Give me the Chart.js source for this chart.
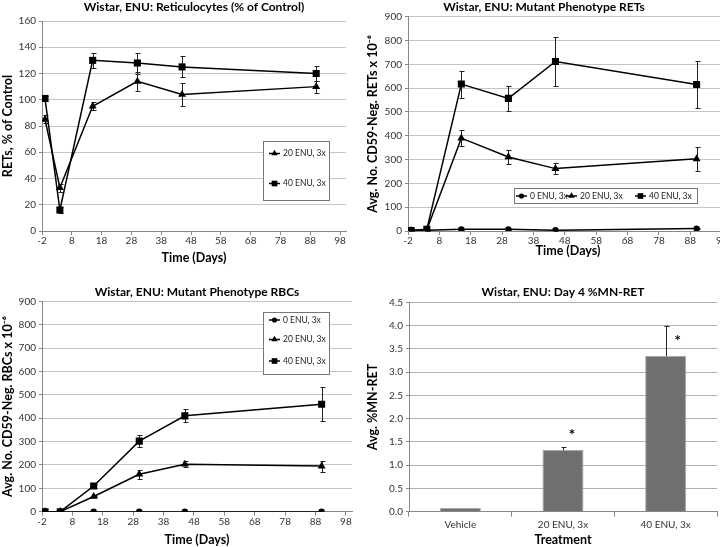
<!DOCTYPE html>
<html>
<head>
<meta charset="utf-8">
<title>Wistar, ENU</title>
<script src="https://cdn.jsdelivr.net/npm/chart.js@4.4.1/dist/chart.umd.min.js"></script>
<style>
  body { margin: 0; background: #fff; }
  #page { position: relative; width: 720px; height: 547px; overflow: hidden; }
  .panel { position: absolute; }
</style>
</head>
<body>
<div id="page">
  <div class="panel" style="left:0;top:0;width:360px;height:273px"><canvas id="retPctChart"></canvas></div>
  <div class="panel" style="left:360px;top:0;width:400px;height:273px"><canvas id="mutRetChart"></canvas></div>
  <div class="panel" style="left:0;top:273px;width:360px;height:274px"><canvas id="mutRbcChart"></canvas></div>
  <div class="panel" style="left:360px;top:273px;width:360px;height:274px"><canvas id="mnRetChart"></canvas></div>
</div>
<script>
// --- DATA ---
const days = [-1, 4, 15, 30, 45, 90];
const dayTicks = [-2, 8, 18, 28, 38, 48, 58, 68, 78, 88, 98];
const seriesLabels = ['0 ENU, 3x', '20 ENU, 3x', '40 ENU, 3x'];

// Reticulocytes (% of control)
const retPct20 = [85, 33, 95, 114, 104, 110];
const retPct20Err = [3, 3, 3, 7.5, 9, 4.5];
const retPct40 = [101, 16, 130, 128, 125, 120];
const retPct40Err = [2, 2, 6, 8, 8, 5.5];

// Mutant phenotype RETs (x 10^-6)
const mutRet0 = [2, 3, 7, 7, 3, 10];
const mutRet0Err = [1, 1, 2, 2, 1, 2];
const mutRet20 = [2, 5, 390, 311, 262, 303];
const mutRet20Err = [1, 2, 35, 29, 22, 51];
const mutRet40 = [2, 7, 617, 557, 712, 615];
const mutRet40Err = [1, 3, 57, 52, 103, 97];

// Mutant phenotype RBCs (x 10^-6)
const mutRbc0 = [0, 0, 0, 0, 0, 0];
const mutRbc20 = [0, 0, 65, 160, 203, 195];
const mutRbc20Err = [0, 0, 4, 18, 12, 24];
const mutRbc40 = [0, 0, 110, 302, 410, 460];
const mutRbc40Err = [0, 0, 8, 25, 28, 72];

// Day 4 %MN-RET
const treatments = ['Vehicle', '20 ENU, 3x', '40 ENU, 3x'];
const mnRet = [0.08, 1.33, 3.35];
const mnRetErr = [0.01, 0.05, 0.65];
const mnRetStars = [null, 1.7, 3.72];

// --- SETUP ---
const FONT = 'Lato, "Open Sans", sans-serif';
Chart.defaults.font.family = FONT;
Chart.defaults.color = '#333';
Chart.defaults.animation = false;

const markers = ['circle', 'triangle', 'rect'];
const markerSize = [3.2, 4.6, 5];

function lineSet(idx, values, errs) {
    return {
        label: seriesLabels[idx],
        data: days.map((d, i) => ({ x: d, y: values[i] })),
        errors: errs,
        showLine: true,
        borderColor: '#000',
        backgroundColor: '#000',
        borderWidth: 1.5,
        pointStyle: markers[idx],
        pointRadius: markerSize[idx],
        pointBorderWidth: 0,
        pointBackgroundColor: '#000'
    };
}

// error bars, drawn under the marks
const errorBars = {
    id: 'errorBars',
    beforeDatasetsDraw(chart) {
        const ctx = chart.ctx;
        const yScale = chart.scales.y;
        ctx.save();
        ctx.strokeStyle = '#222';
        ctx.lineWidth = 1;
        chart.data.datasets.forEach((ds, i) => {
            if (!ds.errors) return;
            chart.getDatasetMeta(i).data.forEach((el, j) => {
                const e = ds.errors[j];
                if (!e) return;
                const v = typeof ds.data[j] === 'number' ? ds.data[j] : ds.data[j].y;
                const top = Math.round(yScale.getPixelForValue(v + e)) + 0.5;
                const bot = Math.round(yScale.getPixelForValue(v - e)) + 0.5;
                const x = Math.round(el.x) + 0.5;
                ctx.beginPath();
                ctx.moveTo(x, top); ctx.lineTo(x, bot);
                ctx.moveTo(x - 2, top); ctx.lineTo(x + 3, top);
                ctx.moveTo(x - 2, bot); ctx.lineTo(x + 3, bot);
                ctx.stroke();
            });
        });
        ctx.restore();
    }
};

// boxed legend placed inside the plot
const boxLegend = {
    id: 'boxLegend',
    afterDraw(chart, args, opts) {
        if (!opts.items) return;
        const ctx = chart.ctx;
        ctx.save();
        ctx.fillStyle = '#fff';
        ctx.strokeStyle = '#777';
        ctx.lineWidth = 1;
        ctx.fillRect(opts.x, opts.y, opts.w, opts.h);
        ctx.strokeRect(opts.x + 0.5, opts.y + 0.5, opts.w, opts.h);
        ctx.font = '8.5px ' + FONT;
        ctx.textBaseline = 'middle';
        chart.data.datasets.forEach((ds, i) => {
            const it = opts.items[i];
            if (!it) return;
            ctx.strokeStyle = '#000';
            ctx.lineWidth = 1.5;
            ctx.beginPath();
            ctx.moveTo(it.x, it.y);
            ctx.lineTo(it.x + 11, it.y);
            ctx.stroke();
            ctx.fillStyle = '#000';
            Chart.helpers.drawPoint(ctx, { pointStyle: ds.pointStyle, radius: ds.pointRadius * 0.8, rotation: 0, borderWidth: 0 }, it.x + 5.5, it.y);
            ctx.fillStyle = '#222';
            ctx.fillText(ds.label, it.x + 14, it.y);
        });
        ctx.restore();
    }
};

// significance stars over bars
const sigStars = {
    id: 'sigStars',
    afterDatasetsDraw(chart, args, opts) {
        if (!opts.values) return;
        const ctx = chart.ctx;
        const meta = chart.getDatasetMeta(0);
        ctx.save();
        ctx.font = 'bold 15px ' + FONT;
        ctx.fillStyle = '#000';
        ctx.textAlign = 'center';
        ctx.textBaseline = 'middle';
        opts.values.forEach((v, j) => {
            if (v == null) return;
            ctx.fillText('*', meta.data[j].x + opts.dx[j], chart.scales.y.getPixelForValue(v) + 3);
        });
        ctx.restore();
    }
};

function titleOpts(text, padTop, padBottom, fullSize) {
    return {
        display: true, text: text, color: '#000', fullSize: fullSize,
        font: { size: 12, weight: 'bold' },
        padding: { top: padTop, bottom: padBottom }
    };
}

function dayAxis(height, titlePad) {
    return {
        type: 'linear', min: -2, max: 100,
        afterBuildTicks: s => { s.ticks = dayTicks.map(v => ({ value: v })); },
        afterFit: s => { s.height = height; },
        ticks: { font: { size: 10 }, padding: 0, callback: v => String(v) },
        grid: { drawOnChartArea: false, color: '#888', tickLength: 4 },
        border: { color: '#888' },
        title: { display: true, text: 'Time (Days)', color: '#000', font: { size: 12.5, weight: 'bold' }, padding: { top: 0, bottom: titlePad } }
    };
}

function valueAxis(max, step, width, title, titlePad, gridColor) {
    return {
        min: 0, max: max,
        afterFit: s => { s.width = width; },
        ticks: { stepSize: step, font: { size: 10 }, padding: 3 },
        grid: { color: gridColor || '#c4c4c4', tickColor: '#888', tickLength: 3 },
        border: { color: '#888' },
        title: { display: true, text: title, color: '#000', font: { size: 12.5, weight: 'bold' }, padding: { top: titlePad, bottom: 0 } }
    };
}

// --- CHARTS ---
new Chart(document.getElementById('retPctChart'), {
    type: 'scatter',
    data: { datasets: [lineSet(1, retPct20, retPct20Err), lineSet(2, retPct40, retPct40Err)] },
    options: {
        responsive: true, maintainAspectRatio: false,
        layout: { padding: { left: 0, right: 14, top: 0, bottom: 0 } },
        scales: {
            x: dayAxis(42, 7.2),
            y: valueAxis(160, 20, 42, 'RETs, % of Control', 0.5)
        },
        plugins: {
            legend: { display: false }, tooltip: { enabled: false },
            title: titleOpts('Wistar, ENU: Reticulocytes (% of Control)', 0, 6.6, false),
            boxLegend: { x: 263, y: 141, w: 66, h: 59, items: [{ x: 269, y: 153.5 }, { x: 269, y: 183.5 }] }
        }
    },
    plugins: [errorBars, boxLegend]
});

new Chart(document.getElementById('mutRetChart'), {
    type: 'scatter',
    data: { datasets: [lineSet(0, mutRet0, mutRet0Err), lineSet(1, mutRet20, mutRet20Err), lineSet(2, mutRet40, mutRet40Err)] },
    options: {
        responsive: true, maintainAspectRatio: false,
        layout: { padding: { left: 0, right: 32, top: 0, bottom: 0 } },
        scales: {
            x: dayAxis(42, 15),
            y: valueAxis(900, 100, 48, 'Avg. No. CD59-Neg. RETs x 10\u207B\u2076', 5.8)
        },
        plugins: {
            legend: { display: false }, tooltip: { enabled: false },
            title: titleOpts('Wistar, ENU: Mutant Phenotype RETs', 0, 2.3, true),
            boxLegend: { x: 154, y: 188, w: 183, h: 15, items: [{ x: 156, y: 196 }, { x: 206, y: 196 }, { x: 275, y: 196 }] }
        }
    },
    plugins: [errorBars, boxLegend]
});

new Chart(document.getElementById('mutRbcChart'), {
    type: 'scatter',
    data: { datasets: [lineSet(0, mutRbc0, null), lineSet(1, mutRbc20, mutRbc20Err), lineSet(2, mutRbc40, mutRbc40Err)] },
    options: {
        responsive: true, maintainAspectRatio: false,
        layout: { padding: { left: 0, right: 8, top: 0, bottom: 0 } },
        scales: {
            x: dayAxis(35.3, 0),
            y: valueAxis(900, 100, 42, 'Avg. No. CD59-Neg. RBCs x 10\u207B\u2076', 0.5)
        },
        plugins: {
            legend: { display: false }, tooltip: { enabled: false },
            title: titleOpts('Wistar, ENU: Mutant Phenotype RBCs', 12.4, 1.5, false),
            boxLegend: { x: 263, y: 39, w: 66, h: 62, items: [{ x: 269, y: 47 }, { x: 269, y: 66.5 }, { x: 269, y: 88 }] }
        }
    },
    plugins: [errorBars, boxLegend]
});

new Chart(document.getElementById('mnRetChart'), {
    type: 'bar',
    data: {
        labels: treatments,
        datasets: [{
            label: 'Avg. %MN-RET',
            data: mnRet,
            errors: mnRetErr,
            backgroundColor: '#707070',
            borderColor: '#a8a8a8',
            borderWidth: 1,
            categoryPercentage: 1,
            barPercentage: 0.4
        }]
    },
    options: {
        responsive: true, maintainAspectRatio: false,
        layout: { padding: { left: 0, right: 3, top: 0, bottom: 0 } },
        scales: {
            x: {
                afterFit: s => { s.height = 35.3; },
                ticks: { font: { size: 10 }, padding: 2 },
                grid: { drawOnChartArea: false, color: '#888', tickLength: 5 },
                border: { color: '#888' },
                title: { display: true, text: 'Treatment', color: '#000', font: { size: 12.5, weight: 'bold' }, padding: { top: 0, bottom: 0 } }
            },
            y: (() => {
                const a = valueAxis(4.5, 0.5, 49, 'Avg. %MN-RET', 5.5, '#b0b0b0');
                a.ticks.callback = v => v.toFixed(1);
                return a;
            })()
        },
        plugins: {
            legend: { display: false }, tooltip: { enabled: false },
            title: titleOpts('Wistar, ENU: Day 4 %MN-RET', 12.4, 2.5, false),
            sigStars: { values: mnRetStars, dx: [0, 9, 12] }
        }
    },
    plugins: [errorBars, sigStars]
});
</script>
</body>
</html>
